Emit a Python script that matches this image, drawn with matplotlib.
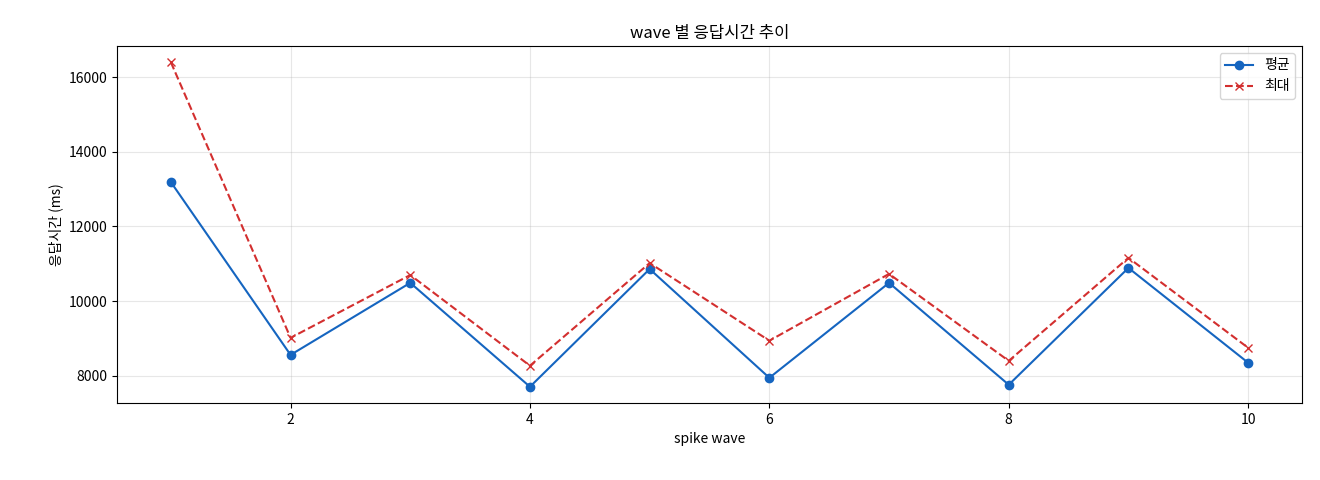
import matplotlib
matplotlib.use("Agg")
import matplotlib.pyplot as plt

plt.rcParams['font.family'] = ['Noto Sans CJK KR', 'DejaVu Sans']

waves = [1, 2, 3, 4, 5, 6, 7, 8, 9, 10]
mean_ms = [13190, 8560, 10490, 7706, 10860, 7946, 10490, 7760, 10890, 8350]
max_ms = [16400, 9017, 10700, 8270, 11020, 8940, 10730, 8400, 11160, 8750]

fig = plt.figure(figsize=(13.2, 4.8), dpi=100)
ax = fig.add_axes([117/1320, 1-403/480, (1302-117)/1320, (403-46)/480])
ax.plot(waves, mean_ms, '-o', color='#1565c0', label='평균', markersize=6)
ax.plot(waves, max_ms, '--x', color='#d32f2f', label='최대', markersize=6)
ax.set_title('wave 별 응답시간 추이', fontsize=12)
ax.set_xlabel('spike wave', fontsize=10)
ax.set_ylabel('응답시간 (ms)', fontsize=10)
ax.grid(True, alpha=0.3)
ax.legend(loc='upper right')
fig.savefig('out.png', dpi=100)
